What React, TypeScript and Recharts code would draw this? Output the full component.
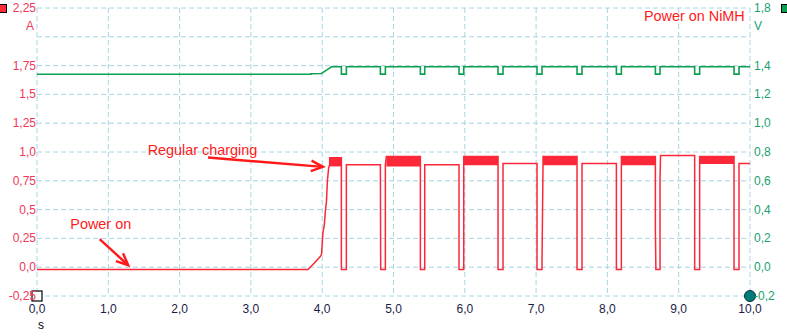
import { LineChart, Line, XAxis, YAxis, CartesianGrid, ReferenceArea, ReferenceDot, ReferenceLine } from "recharts"

document.body.style.margin = "0"

// charger current, [time s, amps]
const currentPts: [number, number][] = [
  [0, -0.02], [3.8, -0.02], [3.88, 0.03], [3.97, 0.09], [3.99, 0.11], [4.0, 0.2], [4.01, 0.3],
  [4.03, 0.37], [4.045, 0.49], [4.06, 0.57], [4.073, 0.75], [4.09, 0.86], [4.105, 0.89],
  [4.105, 0.95], [4.269, 0.95], [4.269, -0.02], [4.339, -0.02], [4.339, 0.89], [4.816, 0.89],
  [4.82, -0.02], [4.886, -0.02], [4.886, 0.89], [4.9, 0.96], [5.377, 0.96], [5.377, -0.02],
  [5.438, -0.02], [5.438, 0.89], [5.919, 0.89], [5.919, -0.02], [5.985, -0.02], [5.985, 0.96],
  [6.466, 0.96], [6.466, -0.02], [6.536, -0.02], [6.536, 0.9], [7.013, 0.9], [7.013, -0.02],
  [7.083, -0.02], [7.083, 0.05], [7.097, 0.89], [7.097, 0.96], [7.574, 0.96], [7.574, -0.02],
  [7.644, -0.02], [7.644, 0.9], [8.126, 0.9], [8.126, -0.02], [8.196, -0.02], [8.196, 0.96],
  [8.673, 0.96], [8.673, 0.33], [8.68, -0.02], [8.738, -0.02], [8.738, 0.75], [8.745, 0.97],
  [9.224, 0.97], [9.224, -0.02], [9.294, -0.02], [9.294, 0.96], [9.776, 0.96], [9.776, -0.02],
  [9.846, -0.02], [9.846, 0.9], [10, 0.9],
]

// cell voltage, [time s, volts]
const voltagePts: [number, number][] = [
  [0, 1.34], [3.84, 1.34], [3.84, 1.343], [3.99, 1.345], [4.06, 1.368], [4.13, 1.392],
  [4.269, 1.392], [4.269, 1.341], [4.339, 1.341], [4.339, 1.392], [4.816, 1.392], [4.816, 1.341],
  [4.886, 1.341], [4.886, 1.392], [5.377, 1.392], [5.377, 1.341], [5.438, 1.341], [5.438, 1.392],
  [5.919, 1.392], [5.919, 1.341], [5.985, 1.341], [5.985, 1.392], [6.466, 1.392], [6.466, 1.341],
  [6.536, 1.341], [6.536, 1.392], [7.013, 1.392], [7.013, 1.341], [7.083, 1.341], [7.083, 1.392],
  [7.574, 1.392], [7.574, 1.341], [7.644, 1.341], [7.644, 1.392], [8.126, 1.392], [8.126, 1.341],
  [8.196, 1.341], [8.196, 1.392], [8.673, 1.392], [8.673, 1.341], [8.738, 1.341], [8.738, 1.392],
  [9.224, 1.392], [9.224, 1.341], [9.294, 1.341], [9.294, 1.392], [9.776, 1.392], [9.776, 1.341],
  [9.846, 1.341], [9.846, 1.392], [10, 1.392],
]

// noisy high-current bursts: [start, end, low A, high A]
const bursts: [number, number, number, number][] = [
  [4.105, 4.269, 0.875, 0.95],
  [4.9, 5.377, 0.875, 0.965],
  [5.985, 6.466, 0.885, 0.965],
  [7.097, 7.574, 0.885, 0.965],
  [8.196, 8.673, 0.885, 0.965],
  [9.294, 9.776, 0.895, 0.965],
]

const timeTicks = [0, 1, 2, 3, 4, 5, 6, 7, 8, 9, 10]
const ampTicks = [-0.25, 0, 0.25, 0.5, 0.75, 1, 1.25, 1.5, 1.75, 2, 2.25]
const voltTicks = [-0.2, 0, 0.2, 0.4, 0.6, 0.8, 1, 1.2, 1.4, 1.6, 1.8]

// annotations: text, time, amps, anchor
const notes: [string, number, number, "start" | "end"][] = [
  ["Power on NiMH", 9.926, 2.14, "end"],
  ["Regular charging", 1.553, 0.975, "start"],
  ["Power on", 0.468, 0.33, "start"],
]
// arrows: [t1, a1, t2, a2]
const arrows: [number, number, number, number][] = [
  [2.398, 0.952, 4.011, 0.871],
  [0.879, 0.243, 1.28, 0.017],
]

const currentData = currentPts.map(([t, a]) => ({ t, a }))
const voltageData = voltagePts.map(([t, v]) => ({ t, v }))

const FONT = "'Liberation Sans', Arial, sans-serif"
const RED = "#fa2838"
const GREEN = "#0da050"
const NOTE = "#ff1a1a"

const fmtAmp = (v: number) => (Number.isInteger(v) ? v.toFixed(1) : String(v)).replace(".", ",")
const fmtVolt = (v: number) => v.toFixed(1).replace(".", ",")

const AmpTick = (p: any) => {
  const v = p.payload.value
  if (v === 2) {
    return <text x={p.x - 2} y={p.y - 7} textAnchor="end" fontSize={12} fill="#f0365a" fontFamily={FONT}>A</text>
  }
  return <text x={p.x} y={p.y + 4} textAnchor="end" fontSize={12} fill="#f0365a" fontFamily={FONT}>{fmtAmp(v)}</text>
}

const VoltTick = (p: any) => {
  const v = p.payload.value
  if (Math.abs(v - 1.6) < 1e-9) {
    return <text x={p.x} y={p.y - 7} fontSize={12} fill="#18a070" fontFamily={FONT}>V</text>
  }
  return <text x={p.x} y={p.y + 4} fontSize={12} fill="#18a070" fontFamily={FONT}>{fmtVolt(v)}</text>
}

const TimeTick = (p: any) => (
  <text x={p.x} y={p.y + 17} textAnchor="middle" fontSize={12} fill="#1c1c48" fontFamily={FONT}>
    {p.payload.value.toFixed(1).replace(".", ",")}
  </text>
)

const Arrow = (p: any) => {
  const { x1, y1, x2, y2 } = p
  const ang = Math.atan2(y2 - y1, x2 - x1)
  const len = 13
  const a1 = ang + Math.PI - 0.42
  const a2 = ang + Math.PI + 0.42
  return (
    <g>
      <line x1={x1} y1={y1} x2={x2} y2={y2} stroke={NOTE} strokeWidth={2.4} />
      <polyline
        points={`${x2 + len * Math.cos(a1)},${y2 + len * Math.sin(a1)} ${x2},${y2} ${x2 + len * Math.cos(a2)},${y2 + len * Math.sin(a2)}`}
        fill="none"
        stroke={NOTE}
        strokeWidth={2.4}
      />
    </g>
  )
}

export default function App() {
  return (
    <div style={{ position: "relative", width: 787, height: 336, background: "#fff", fontFamily: FONT }}>
      <LineChart width={787} height={336} margin={{ top: 8, right: 0, bottom: 0, left: 0 }}>
        <CartesianGrid yAxisId="a" stroke="#a9d6e2" strokeDasharray="5 3" />
        <XAxis
          type="number"
          dataKey="t"
          domain={[0, 10]}
          ticks={timeTicks}
          interval={0}
          height={40}
          axisLine={false}
          tickLine={false}
          tickSize={0}
          tickMargin={0}
          tick={TimeTick}
        />
        <YAxis
          yAxisId="a"
          domain={[-0.25, 2.25]}
          ticks={ampTicks}
          interval={0}
          width={37}
          axisLine={false}
          tickLine={false}
          tickSize={0}
          tickMargin={1}
          tick={AmpTick}
        />
        <YAxis
          yAxisId="v"
          orientation="right"
          domain={[-0.2, 1.8]}
          ticks={voltTicks}
          interval={0}
          width={37}
          axisLine={false}
          tickLine={false}
          tickSize={0}
          tickMargin={4}
          tick={VoltTick}
        />
        {bursts.map(([x1, x2, y1, y2], i) => (
          <ReferenceArea key={`b${i}`} yAxisId="a" x1={x1} x2={x2} y1={y1} y2={y2} fill={RED} fillOpacity={1} stroke="none" />
        ))}
        <Line yAxisId="v" data={voltageData} dataKey="v" type="linear" stroke={GREEN} strokeWidth={1.6} dot={false} activeDot={false} isAnimationActive={false} />
        <Line yAxisId="a" data={currentData} dataKey="a" type="linear" stroke={RED} strokeWidth={1.5} dot={false} activeDot={false} isAnimationActive={false} />
        {arrows.map(([t1, a1, t2, a2], i) => (
          <ReferenceLine key={`ar${i}`} yAxisId="a" segment={[{ x: t1, y: a1 }, { x: t2, y: a2 }]} shape={Arrow} />
        ))}
        {notes.map(([text, t, a, anchor], i) => (
          <ReferenceDot
            key={`n${i}`}
            yAxisId="a"
            x={t}
            y={a}
            ifOverflow="visible"
            shape={(p: any) => (
              <text x={p.cx} y={p.cy} textAnchor={anchor} fontSize={14.4} fill={NOTE} fontFamily={FONT}>{text}</text>
            )}
          />
        ))}
        <ReferenceDot
          yAxisId="a"
          x={0}
          y={-0.25}
          ifOverflow="visible"
          shape={(p: any) => <rect x={p.cx - 5} y={p.cy - 5} width={10} height={10} fill="#fff" stroke="#000" strokeWidth={1.2} />}
        />
        <ReferenceDot
          yAxisId="v"
          x={10}
          y={-0.2}
          ifOverflow="visible"
          shape={(p: any) => <circle cx={p.cx} cy={p.cy} r={5.5} fill="#007c7c" stroke="#0a3030" strokeWidth={1} />}
        />
      </LineChart>
      <div style={{ position: "absolute", left: -2, top: 4, width: 7, height: 7, background: "#ff2d3a", border: "1px solid #000" }} />
      <div style={{ position: "absolute", left: 781, top: 4, width: 7, height: 7, background: "#0da050", border: "1px solid #000" }} />
      <div style={{ position: "absolute", left: 38, top: 318, fontSize: 12, color: "#000", fontFamily: FONT }}>s</div>
    </div>
  )
}
